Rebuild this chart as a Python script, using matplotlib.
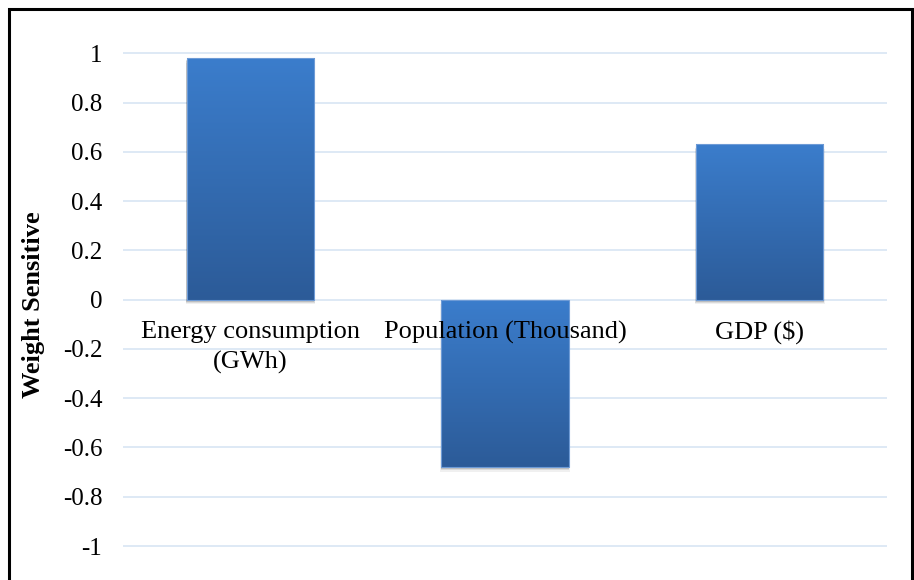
import matplotlib.pyplot as plt
import numpy as np
from matplotlib.colors import LinearSegmentedColormap
from matplotlib.patches import Rectangle

categories = ["Energy consumption\n(GWh)", "Population (Thousand)", "GDP ($)"]
weights = [0.98, -0.68, 0.63]
yticks = [-1, -0.8, -0.6, -0.4, -0.2, 0, 0.2, 0.4, 0.6, 0.8, 1]
ytick_labels = ["-1", "-0.8", "-0.6", "-0.4", "-0.2", "0", "0.2", "0.4", "0.6", "0.8", "1"]

plt.rcParams['font.family'] = ['Liberation Serif', 'DejaVu Serif']

fig = plt.figure(figsize=(9.14, 5.8), dpi=100)
ax = fig.add_axes([0.1346, 0.0416, 0.8359, 0.8834])

x = np.arange(len(categories))

# category labels sit next to the zero line (set before styling the ticks,
# moving the spine rebuilds them)
for s in ax.spines.values():
    s.set_visible(False)
ax.spines['bottom'].set_position(('data', 0))

# light blue gridlines behind the bars
for t in yticks:
    ax.axhline(t, color='#d5e3f3', lw=1.1, zorder=0)

bars = ax.bar(x, weights, width=0.5, color='none', edgecolor='#6e9bd6',
              linewidth=0.8, zorder=1)

grad = LinearSegmentedColormap.from_list('bar', ['#2c5b98', '#3b7dcc'])
for b in bars:
    x0, w = b.get_x(), b.get_width()
    y0, h = b.get_y(), b.get_height()
    lo, hi = min(y0, y0 + h), max(y0, y0 + h)
    # soft drop shadow
    for k, a in [(0.014, 0.06), (0.009, 0.09), (0.005, 0.12)]:
        ax.add_patch(Rectangle((x0 - k / 3, lo - k - 0.004), w + 2 * k / 3, hi - lo,
                               color='#000000', alpha=a, lw=0, zorder=0.8))
    img = ax.imshow(np.linspace(0, 1, 256).reshape(-1, 1), cmap=grad,
                    extent=[x0, x0 + w, lo, hi], origin='lower',
                    aspect='auto', zorder=0.9)
    img.set_clip_path(b)

ax.set_xlim(-0.5, len(categories) - 0.5)
ax.set_ylim(-1.04, 1.04)

ax.set_yticks(yticks)
ax.set_yticklabels(ytick_labels, fontsize=18)
ax.set_xticks(x)
ax.set_xticklabels(categories, fontsize=19, linespacing=1.45)
ax.tick_params(axis='both', length=0)
ax.tick_params(axis='y', pad=15)
ax.tick_params(axis='x', pad=15)
ax.xaxis.set_zorder(3)

ax.set_ylabel("Weight Sensitive", fontsize=19, fontweight='bold')
ax.yaxis.set_label_coords(-0.102, 0.49)

# outer frame
fig.patches.append(Rectangle((9 / 914, -0.05), 903 / 914, 1.05 - 9 / 580,
                             transform=fig.transFigure, fill=False,
                             edgecolor='black', lw=2.2))

fig.savefig("out.png", dpi=100)
